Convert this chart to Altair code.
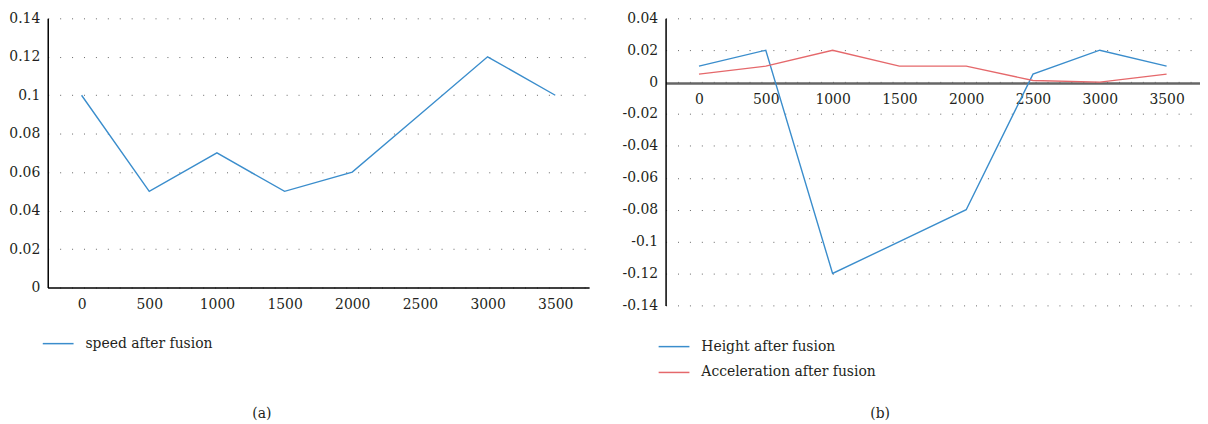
import altair as alt
import pandas as pd

x_labels = ["0", "500", "1000", "1500", "2000", "2500", "3000", "3500"]
speed = [0.1, 0.05, 0.07, 0.05, 0.06, 0.09, 0.12, 0.1]
height_vals = [0.01, 0.02, -0.12, -0.10, -0.08, 0.005, 0.02, 0.01]
accel_vals = [0.005, 0.01, 0.02, 0.01, 0.01, 0.001, 0.0, 0.005]
left_ticks = [0, 0.02, 0.04, 0.06, 0.08, 0.1, 0.12, 0.14]
right_ticks = [-0.14, -0.12, -0.1, -0.08, -0.06, -0.04, -0.02, 0, 0.02, 0.04]
name_a = "speed after fusion"
names_b = ["Height after fusion", "Acceleration after fusion"]

FONT = "DejaVu Serif"
TXT = "#231f20"
BLUE = "#3a8dcc"
RED = "#e5686b"
FS = 14

df_a = pd.DataFrame({"t": x_labels, "v": speed, "s": name_a})
df_b = pd.concat([
    pd.DataFrame({"t": x_labels, "v": height_vals, "s": names_b[0]}),
    pd.DataFrame({"t": x_labels, "v": accel_vals, "s": names_b[1]}),
])

label_expr = "toString(round(datum.value*100)/100)"

def y_axis(vals):
    return alt.Axis(values=vals, title=None, grid=True, gridDash=[1, 11],
                    gridColor="#666", gridWidth=1, ticks=False,
                    labelFont=FONT, labelFontSize=FS, labelColor=TXT,
                    labelPadding=8, labelExpr=label_expr,
                    domainColor="#000", domainWidth=1.5)

def legend(x, y, rp):
    return alt.Legend(title=None, orient="none", legendX=x, legendY=y,
                      symbolType="stroke", symbolSize=961, symbolStrokeWidth=1.5,
                      labelFont=FONT, labelFontSize=FS, labelColor=TXT, labelLimit=400,
                      labelOffset=11, rowPadding=rp, padding=0)

left = alt.Chart(df_a).mark_line(strokeWidth=1.4).encode(
    x=alt.X("t:O", sort=x_labels,
            axis=alt.Axis(title=None, labelAngle=0, grid=False, ticks=False,
                          domainColor="#000", domainWidth=1.5,
                          labelFont=FONT, labelFontSize=FS, labelColor=TXT,
                          labelPadding=10)),
    y=alt.Y("v:Q", scale=alt.Scale(domain=[0, 0.14], nice=False), axis=y_axis(left_ticks)),
    color=alt.Color("s:N", scale=alt.Scale(domain=[name_a], range=[BLUE]),
                    legend=legend(-6, 311, 2)),
).properties(width=545, height=271,
             title=alt.TitleParams("(a)", orient="bottom", font=FONT, fontSize=FS,
                                   fontWeight="normal", color=TXT, dx=-57, offset=56))

right = alt.Chart(df_b).mark_line(strokeWidth=1.4).encode(
    x=alt.X("t:O", sort=x_labels,
            axis=alt.Axis(title=None, labelAngle=0, grid=False, ticks=False,
                          domainColor="#666", domainWidth=2.5, offset=-224,
                          labelFont=FONT, labelFontSize=FS, labelColor=TXT,
                          labelPadding=10)),
    y=alt.Y("v:Q", scale=alt.Scale(domain=[-0.14, 0.04], nice=False), axis=y_axis(right_ticks)),
    color=alt.Color("s:N", sort=names_b, scale=alt.Scale(domain=names_b, range=[BLUE, RED]),
                    legend=legend(-8, 314, 2)),
).properties(width=538, height=289,
             title=alt.TitleParams("(b)", orient="bottom", font=FONT, fontSize=FS,
                                   fontWeight="normal", color=TXT, dx=-53, offset=27))

chart = alt.hconcat(left, right, spacing=33).resolve_scale(
    color="independent"
).resolve_legend(color="independent").properties(
    padding={"left": 0, "top": 2, "right": 0, "bottom": 0}
).configure(font=FONT).configure_view(stroke=None)

chart.save("out.html", embed_options={"renderer": "svg", "actions": False})
